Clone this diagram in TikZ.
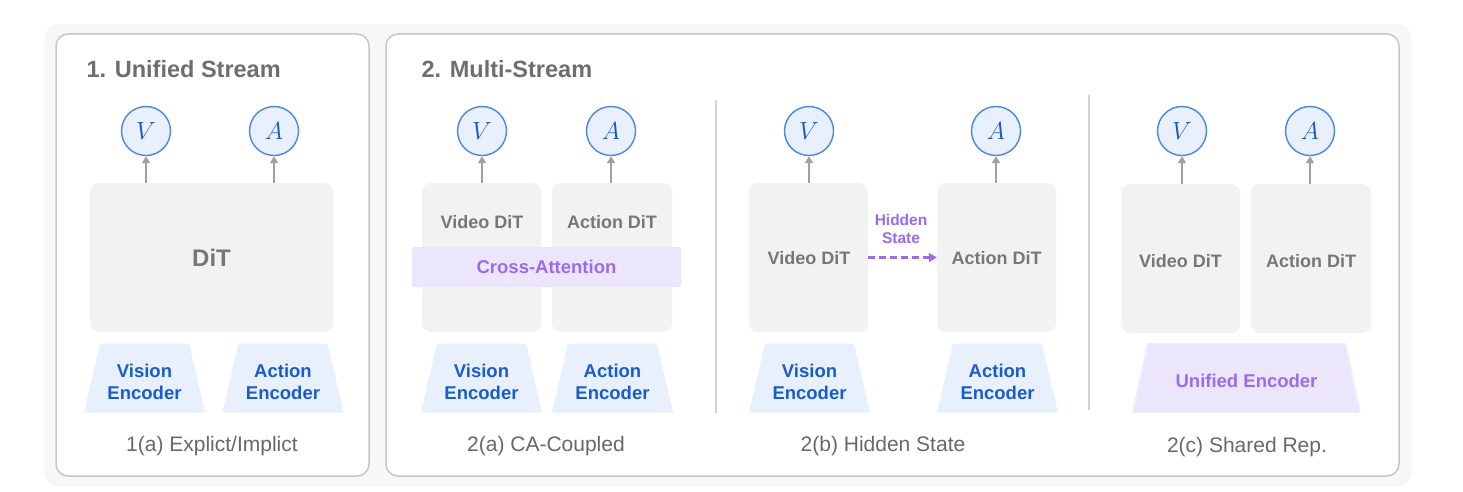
\documentclass[tikz,border=0pt]{standalone}
\usepackage{fontspec}
\setmainfont{Liberation Sans}
\usetikzlibrary{arrows.meta}

\definecolor{bggray}{HTML}{F7F7F7}
\definecolor{panelline}{HTML}{C6C6C6}
\definecolor{boxgray}{HTML}{F2F2F2}
\definecolor{titlegray}{HTML}{6E6E6E}
\definecolor{ditgray}{HTML}{777777}
\definecolor{capgray}{HTML}{686868}
\definecolor{circfill}{HTML}{E8F0FE}
\definecolor{circline}{HTML}{4A86E8}
\definecolor{letterblue}{HTML}{1A56C4}
\definecolor{encfill}{HTML}{E8F0FE}
\definecolor{enctext}{HTML}{1A5CCB}
\definecolor{lavender}{HTML}{ECE6FC}
\definecolor{purp}{HTML}{9B6BEE}
\definecolor{arrgray}{HTML}{A0A0A0}
\definecolor{divgray}{HTML}{D4D4D4}

\tikzset{
	panel/.style={draw=panelline, line width=1.5pt, fill=white, rounded corners=12pt},
	ditbox/.style={fill=boxgray, rounded corners=9pt, minimum width=#1, minimum height=149pt, inner sep=0pt},
	dittext/.style={text=ditgray, font=\bfseries\fontsize{18}{18}\selectfont},
	outnode/.style={circle, draw=circline, line width=1.4pt, fill=circfill, minimum size=49pt, inner sep=0pt, text=letterblue, font=\fontsize{25}{25}\selectfont},
	enc/.style={minimum width=#1, minimum height=69pt, inner sep=0pt, fill=white,
		path picture={\fill[encfill] ([xshift=16pt]path picture bounding box.north west) -- ([xshift=-16pt]path picture bounding box.north east)
			-- (path picture bounding box.south east) -- (path picture bounding box.south west) -- cycle;}},
	uenc/.style={minimum width=#1, minimum height=69pt, inner sep=0pt, fill=white,
		path picture={\filldraw[fill=lavender, draw=encfill, line width=2pt] ([xshift=15pt]path picture bounding box.north west) -- ([xshift=-15pt]path picture bounding box.north east)
			-- (path picture bounding box.south east) -- (path picture bounding box.south west) -- cycle;}},
	enctxt/.style={align=center, text=enctext, font=\bfseries\fontsize{18.5}{22}\selectfont},
	uparr/.style={-{Triangle[length=7pt,width=8pt]}, draw=arrgray, line width=2.8pt},
	title/.style={anchor=base west, text=titlegray, font=\bfseries\fontsize{23.5}{23.5}\selectfont},
	caption/.style={anchor=base, text=capgray, font=\fontsize{21}{21}\selectfont},
}

\begin{document}
\begin{tikzpicture}[x=1pt,y=-1pt]
	\useasboundingbox (0,0) rectangle (1463,492);

	% frames
	\fill[bggray, rounded corners=16pt] (44,24) rectangle (1412,487);
	\draw[panel] (56,34) rectangle (369,476);
	\draw[panel] (386,34) rectangle (1399,476);
	\draw[divgray, line width=1.2pt] (716,100) -- (716,413);
	\draw[divgray, line width=1.2pt] (1089,95) -- (1089,410);

	\node[title] (t1) at (83,78) {1. Unified Stream};
	\node[title] (t2) at (418,78) {2. Multi-Stream};

	% 1(a)
	\node[ditbox=243pt] (dit1) at (211.5,257.5) {};
	\node[dittext, font=\bfseries\fontsize{24}{24}\selectfont] (dit1t) at (211.5,258) {DiT};
	\node[enc=121pt] (ve1) at (144.5,378) {};
	\node[enc=121pt] (ae1) at (283,378) {};
	\node[caption] (c1) at (212,451) {1(a) Explict/Implict};

	% 2(a)
	\node[ditbox=119pt] (vd2) at (481.5,257.5) {};
	\node[ditbox=120pt] (ad2) at (612,257.5) {};
	\node[dittext] (vd2t) at (482,222) {Video DiT};
	\node[dittext] (ad2t) at (612,222) {Action DiT};
	\node[fill=lavender, rounded corners=2pt, minimum width=269pt, minimum height=40pt, inner sep=0pt,
		text=purp, font=\bfseries\fontsize{18.5}{18.5}\selectfont] (xa2) at (546.5,267) {Cross-Attention};
	\node[enc=121pt] (ve2) at (481.5,378) {};
	\node[enc=121pt] (ae2) at (612.5,378) {};
	\node[caption] (c2) at (546,451) {2(a) CA-Coupled};

	% 2(b)
	\node[ditbox=119pt] (vd3) at (808.5,257.5) {};
	\node[ditbox=119pt] (ad3) at (996.5,257.5) {};
	\node[dittext] (vd3t) at (809,258) {Video DiT};
	\node[dittext] (ad3t) at (996.5,258) {Action DiT};
	\draw[purp, line width=2.4pt, dash pattern=on 7pt off 4pt, -{Triangle[length=8pt,width=9pt]}] (vd3) -- (ad3);
	\node[align=center, text=purp, font=\bfseries\fontsize{15.5}{18}\selectfont] (hs3) at (901,229) {Hidden\\State};
	\node[enc=121pt] (ve3) at (809.5,378) {};
	\node[enc=121pt] (ae3) at (997.5,378) {};
	\node[caption] (c3) at (883,451) {2(b) Hidden State};

	% encoder labels
	\foreach \e/\t in {ve1/Vision, ae1/Action, ve2/Vision, ae2/Action, ve3/Vision, ae3/Action}{
		\node[enctxt] (\e t) at ([yshift=-4pt]\e) {\t\\Encoder};
	}

	% 2(c)
	\node[ditbox=119pt] (vd4) at (1180.5,258.5) {};
	\node[ditbox=120pt] (ad4) at (1311,258.5) {};
	\node[dittext] (vd4t) at (1180.5,261) {Video DiT};
	\node[dittext] (ad4t) at (1311,261) {Action DiT};
	\node[uenc=227pt] (ue4) at (1246.5,378) {};
	\node[text=purp, font=\bfseries\fontsize{18.5}{18.5}\selectfont] (ue4t) at (1246.5,381) {Unified Encoder};
	\node[caption] (c4) at (1247,452) {2(c) Shared Rep.};

	% outputs
	\foreach \n/\x/\l/\b in {v1/146/V/dit1, a1/274/A/dit1, v2/482/V/vd2, a2/611/A/ad2,
		v3/809/V/vd3, a3/996/A/ad3, v4/1182/V/vd4, a4/1310/A/ad4}{
		\node[outnode] (\n) at (\x,131) {$\l$};
		\draw[uparr] (\n |- \b.north) -- (\n);
	}
\end{tikzpicture}
\end{document}
